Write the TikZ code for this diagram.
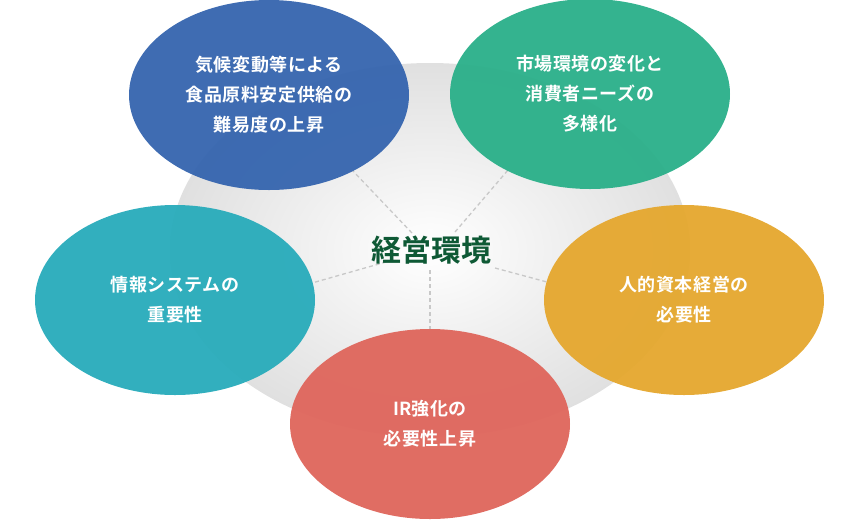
\documentclass[tikz,border=0pt]{standalone}
\usepackage{fontspec}
\usetikzlibrary{shapes.geometric}
\newfontfamily\jpm{Noto Sans CJK JP Bold}[LetterSpace=3]
\newfontfamily\jpb{Noto Sans CJK JP Bold}
\definecolor{cblue}{HTML}{3766AF}
\definecolor{cgreen}{HTML}{2CB08A}
\definecolor{cteal}{HTML}{2AACBB}
\definecolor{corange}{HTML}{E5A830}
\definecolor{cred}{HTML}{DF675D}
\definecolor{ctitle}{HTML}{0E5935}
\definecolor{cdash}{HTML}{C8C8C8}
\definecolor{cgray}{HTML}{E0E0E0}
\tikzset{
  bubble/.style={ellipse, minimum width=280pt, minimum height=190pt, inner sep=0pt,
    fill opacity=0.96, text opacity=1, text=white, align=center,
    font=\jpm\fontsize{18}{30}\selectfont},
  spoke/.style={draw=cdash, line width=1.3pt, dash pattern=on 4pt off 3pt},
}
\begin{document}
\begin{tikzpicture}[x=1pt,y=-1pt]
\useasboundingbox (0,0) rectangle (860,520);
% central gradient disc
\node[ellipse, minimum width=520pt, minimum height=374pt, inner sep=0pt,
  inner color=white, outer color=cgray, draw=none] (disc) at (430,250) {};
% spokes
\coordinate (bIn) at (412,233); \coordinate (bOut) at (353,171);
\coordinate (gIn) at (455,232); \coordinate (gOut) at (508,170);
\coordinate (tIn) at (393,260); \coordinate (tOut) at (312,283);
\coordinate (oIn) at (495,268); \coordinate (oOut) at (547,282);
\coordinate (rIn) at (430,270); \coordinate (rOut) at (430,329);
\draw[spoke] (bIn) -- (bOut);
\draw[spoke] (gIn) -- (gOut);
\draw[spoke] (tIn) -- (tOut);
\draw[spoke] (oIn) -- (oOut);
\draw[spoke] (rIn) -- (rOut);
% bubbles
\node[bubble, fill=cblue] (blue) at (269,95) {気候変動等による\\食品原料安定供給の\\難易度の上昇};
\node[bubble, fill=cgreen] (green) at (590,94) {市場環境の変化と\\消費者ニーズの\\多様化};
\node[bubble, fill=cteal] (teal) at (175,300) {情報システムの\\重要性};
\node[bubble, fill=corange] (orange) at (684,300) {人的資本経営の\\必要性};
\node[bubble, fill=cred] (red) at (430,424) {{\jpb IR}強化の\\必要性上昇};
% title
\node[text=ctitle, font=\jpb\fontsize{30}{36}\selectfont, inner sep=0pt] (title) at (431,250) {経営環境};
\end{tikzpicture}
\end{document}
